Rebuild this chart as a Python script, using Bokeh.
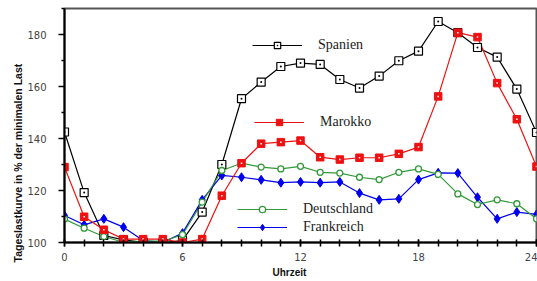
from bokeh.plotting import figure
from bokeh.models import (ColumnDataSource, FixedTicker, Legend, LegendItem, Title, Range1d)
from bokeh.embed import file_html
from bokeh.resources import INLINE

hours = list(range(25))
spanien = [142.5, 119.2, 102.7, 101.0, 100.1, 99.8, 100.8, 111.7, 130.0, 155.3, 161.7,
           167.7, 169.0, 168.5, 162.7, 159.4, 164.0, 169.9, 173.6, 185.0, 180.7, 175.0,
           171.3, 159.0, 142.3]
marokko = [129.0, 109.9, 104.9, 101.3, 101.3, 101.3, 100.0, 101.3, 118.0, 130.5, 138.0,
           138.6, 139.2, 132.8, 131.9, 132.6, 132.6, 134.1, 136.7, 156.2, 180.7, 179.0,
           161.3, 147.4, 129.2]
deutschland = [109.0, 105.5, 102.3, 100.1, 100.5, 100.5, 103.0, 115.5, 127.7, 130.5, 129.0,
               128.3, 129.3, 127.0, 126.7, 125.1, 124.2, 127.0, 128.3, 126.2, 118.7, 114.6,
               116.4, 114.9, 109.1]
frankreich = [110.4, 106.8, 109.1, 105.9, 100.8, 100.0, 103.6, 116.4, 125.8, 125.1, 124.1,
              123.0, 123.3, 123.0, 123.3, 119.0, 116.4, 116.8, 124.2, 126.8, 126.7, 117.4,
              109.1, 111.7, 110.8]

x_ticks = [0, 6, 12, 18, 24]
y_ticks = [100, 120, 140, 160, 180]
y_minor = [110, 130, 150, 170, 190]

src = ColumnDataSource(dict(h=hours, es=spanien, ma=marokko, de=deutschland, fr=frankreich))

p = figure(width=537, height=281, output_backend="svg", toolbar_location=None,
           x_range=Range1d(0, 24), y_range=Range1d(100, 190),
           min_border_left=64, min_border_right=1, min_border_top=8, min_border_bottom=39)
p.grid.visible = False
p.background_fill_color = "white"
p.border_fill_color = "white"
p.outline_line_color = "#555555"
p.outline_line_width = 2

# axes
p.xaxis.ticker = FixedTicker(ticks=x_ticks, minor_ticks=hours)
p.yaxis.ticker = FixedTicker(ticks=y_ticks, minor_ticks=y_minor)
for ax in (p.xaxis[0], p.yaxis[0]):
    ax.axis_line_color = "black"
    ax.axis_line_width = 2
    ax.major_tick_line_color = "black"
    ax.minor_tick_line_color = "black"
    ax.major_tick_line_width = 1.5
    ax.minor_tick_line_width = 1.5
    ax.major_label_text_font = "DejaVu Sans"
    ax.major_label_text_font_size = "10px"
    ax.major_label_text_color = "#444444"
p.xaxis.major_tick_in = 3
p.xaxis.major_tick_out = 4
p.xaxis.minor_tick_in = 3
p.xaxis.minor_tick_out = 4
p.xaxis.major_label_standoff = 6
p.yaxis.major_tick_in = 0
p.yaxis.major_tick_out = 6
p.yaxis.minor_tick_in = 0
p.yaxis.minor_tick_out = 3
p.yaxis.major_label_standoff = 12

# series
r_es_l = p.line("h", "es", source=src, line_color="black", line_width=1.2)
r_fr_l = p.line("h", "fr", source=src, line_color="#0000ee", line_width=1.2)
r_de_l = p.line("h", "de", source=src, line_color="#33993a", line_width=1.2)
r_ma_l = p.line("h", "ma", source=src, line_color="#ee1111", line_width=1.2)

r_es_m = p.scatter("h", "es", source=src, marker="square_dot", size=8,
                   fill_color="white", line_color="black", line_width=1.2)
r_fr_m = p.scatter("h", "fr", source=src, marker="diamond", size=9,
                   fill_color="#0000ee", line_color="#0000ee", line_width=1)
r_de_m = p.scatter("h", "de", source=src, marker="circle", size=6,
                   fill_color="white", line_color="#33993a", line_width=1.3)
r_ma_m = p.scatter("h", "ma", source=src, marker="square", size=7.5,
                   fill_color="#ee1111", line_color="#ee1111", line_width=1)
r_ma_d = p.scatter("h", "ma", source=src, marker="square", size=1.5,
                   fill_color="white", line_color=None)

# legends (scattered inside the frame)
def add_legend(label, renderers, loc):
    lg = Legend(items=[LegendItem(label=label, renderers=renderers)],
                location=loc, orientation="vertical",
                padding=0, margin=0, spacing=0,
                glyph_width=50, glyph_height=16, label_height=16,
                label_standoff=16,
                label_text_font="Liberation Serif", label_text_font_size="14px",
                label_text_color="#222222",
                border_line_color=None, background_fill_alpha=0)
    p.add_layout(lg, "center")

add_legend("Spanien", [r_es_l, r_es_m], (188, 189))
add_legend("Marokko", [r_ma_l, r_ma_m], (190, 112))
add_legend("Deutschland", [r_de_l, r_de_m], (173, 25))
add_legend("Frankreich", [r_fr_l, r_fr_m], (173, 7))

# axis titles
p.add_layout(Title(text="Tageslastkurve in % der minimalen Last", align="left", offset=-20,
                   text_font="Liberation Sans", text_font_style="bold",
                   text_font_size="10.5px", text_color="#111111", standoff=2), "left")
p.add_layout(Title(text="Uhrzeit", align="left", offset=208,
                   text_font="Liberation Sans", text_font_style="bold",
                   text_font_size="10px", text_color="#111111", standoff=2), "below")

open("out.html", "w").write(file_html(p, INLINE))
